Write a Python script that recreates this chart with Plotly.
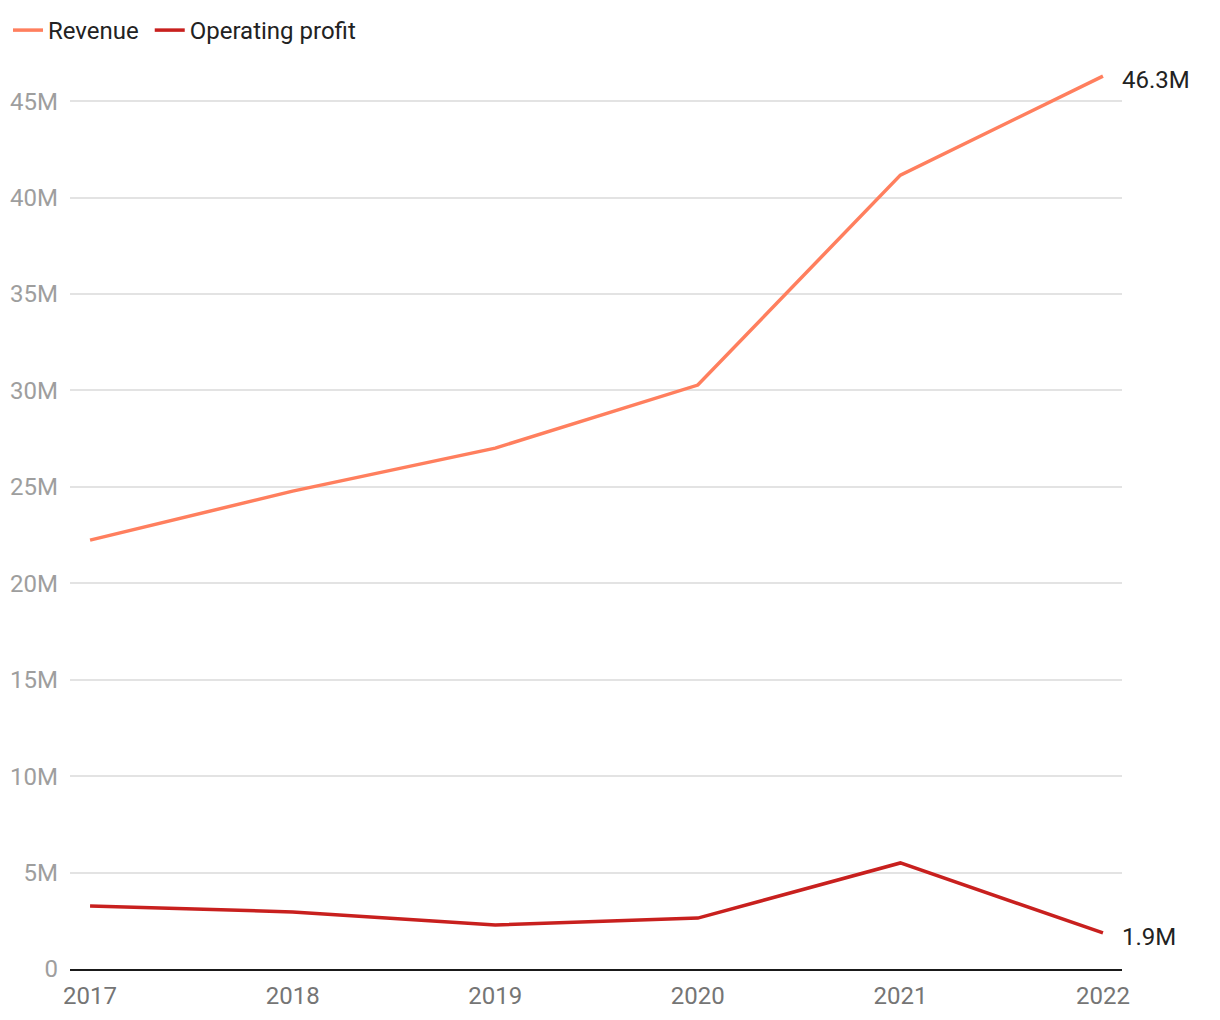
import plotly.graph_objects as go

years = [2017, 2018, 2019, 2020, 2021, 2022]
revenue = [22.24, 24.78, 27.01, 30.28, 41.17, 46.3]
profit = [3.27, 2.96, 2.28, 2.64, 5.5, 1.87]
series_names = ["Revenue&nbsp;", "Operating profit"]
colors = ["#FF7F5E", "#C8201E"]
end_labels = ["46.3M", "1.9M"]
y_ticks = [0, 5, 10, 15, 20, 25, 30, 35, 40, 45]
y_tick_text = ["0", "5M", "10M", "15M", "20M", "25M", "30M", "35M", "40M", "45M"]

fig = go.Figure()
for name, vals, c in zip(series_names, [revenue, profit], colors):
    fig.add_trace(go.Scatter(x=years, y=vals, name=name, mode="lines",
                             line=dict(color=c, width=3.5)))

for vals, lab in zip([revenue, profit], end_labels):
    fig.add_annotation(x=years[-1], y=vals[-1], text=lab, showarrow=False,
                       xanchor="left", yanchor="middle", xshift=17, yshift=-4,
                       font=dict(size=24, color="#222222", family="Roboto"))

fig.update_layout(
    width=1220, height=1020,
    margin=dict(l=62, r=106, t=45, b=59, autoexpand=False),
    paper_bgcolor="white", plot_bgcolor="white",
    font=dict(family="Roboto", size=24, color="#222222"),
    showlegend=True,
    legend=dict(orientation="h", x=0, xref="container", xanchor="left", y=1.0, yref="container",
                yanchor="top", font=dict(size=24, color="#222222"),
                itemwidth=30, tracegroupgap=0, bgcolor="rgba(0,0,0,0)"),
    xaxis=dict(range=[2016.901, 2022.094], tickvals=years, ticktext=[str(y) for y in years],
               showgrid=False, showline=True, linecolor="#1a1a1a", linewidth=2,
               tickfont=dict(size=24, color="#757575"), ticks="", zeroline=False,
               ticklabelstandoff=4, automargin=False),
    yaxis=dict(range=[0, 47.5], tickvals=y_ticks, ticktext=y_tick_text,
               showgrid=True, gridcolor="#e3e3e3", gridwidth=1.5, zeroline=False,
               tickfont=dict(size=24, color="#9e9e9e"), ticks="", ticklabelstandoff=11,
               automargin=False),
)

fig.write_html("out.html")
